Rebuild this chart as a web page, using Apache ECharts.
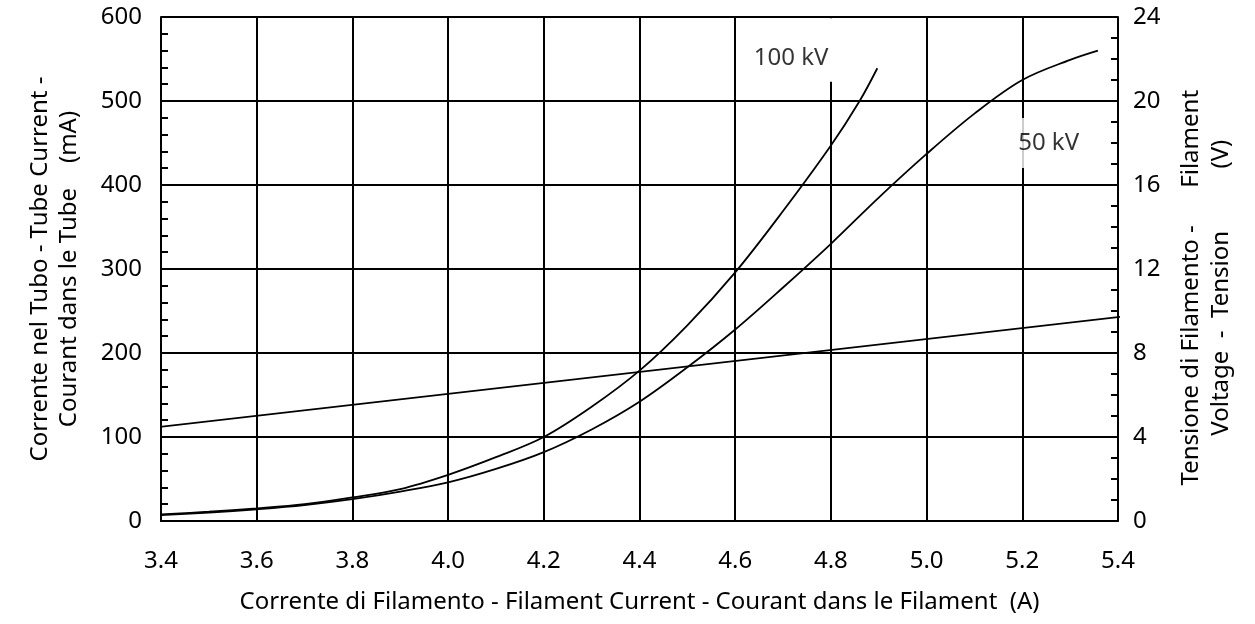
<!DOCTYPE html>
<html>
<head>
<meta charset="utf-8">
<script src="https://cdn.jsdelivr.net/npm/echarts@6/dist/echarts.min.js"></script>
<style>
  html, body { margin: 0; padding: 0; background: #fff; }
  #chart { width: 1255px; height: 624px; }
</style>
</head>
<body>
<div id="chart"></div>
<script>
// filament current (A) -> tube current (mA)
const current100kV = [3.4, 3.5, 3.6, 3.7, 3.8, 3.9, 4.0, 4.1, 4.2, 4.3, 4.4, 4.5, 4.6, 4.7, 4.8, 4.86, 4.897]
const tube100kV = [8, 11, 15, 20, 28, 38, 55, 76, 100, 136, 179, 233, 296, 369, 447, 500, 539]

const current50kV = [3.4, 3.5, 3.6, 3.7, 3.8, 3.9, 4.0, 4.1, 4.2, 4.3, 4.4, 4.5, 4.6, 4.7, 4.8, 4.9, 5.0, 5.1, 5.2, 5.3, 5.358]
const tube50kV = [7, 10, 14, 19, 26, 35, 46, 62, 82, 109, 142, 183, 228, 278, 330, 385, 437, 485, 525, 549, 560]

// filament voltage (V), straight line
const currentVolt = [3.34, 5.42]
const filamentVolt = [4.33, 9.76]

// curve labels [x, mA, text]
const curveLabels = [
  [4.717, 551, '100 kV'],
  [5.255, 450, '50 kV']
]

const FONT = 'Noto Sans'
const FS = 24

const pairs = (xs, ys) => xs.map((x, i) => [x, ys[i]])

const chart = echarts.init(document.getElementById('chart'))

const option = {
  animation: false,
  backgroundColor: '#fff',
  textStyle: { fontFamily: FONT, color: '#000' },
  grid: { left: 161, right: 137, top: 17, bottom: 103 },
  xAxis: {
    type: 'value',
    min: 3.4,
    max: 5.4,
    interval: 0.2,
    name: 'Corrente di Filamento - Filament Current - Courant dans le Filament  (A)',
    nameLocation: 'middle',
    nameGap: 69,
    nameTextStyle: { fontSize: FS, color: '#000', fontFamily: FONT },
    axisLine: { lineStyle: { color: '#000', width: 2 } },
    axisTick: { show: false },
    axisLabel: {
      fontSize: FS, color: '#000', margin: 28, fontFamily: FONT,
      formatter: v => v.toFixed(1)
    },
    splitLine: { show: true, lineStyle: { color: '#000', width: 2 } }
  },
  yAxis: [
    {
      type: 'value',
      position: 'left',
      min: 0,
      max: 600,
      interval: 100,
      name: 'Corrente nel Tubo - Tube Current -\nCourant dans le Tube    (mA)',
      nameLocation: 'middle',
      nameRotate: 90,
      nameGap: 77,
      nameTextStyle: { fontSize: FS, color: '#000', lineHeight: 29, fontFamily: FONT },
      axisLine: { show: true, lineStyle: { color: '#000', width: 2 } },
      axisTick: { show: true, inside: true, length: 7, lineStyle: { color: '#000', width: 2 } },
      minorTick: { show: true, splitNumber: 5, length: 7, lineStyle: { color: '#000', width: 2 } },
      axisLabel: { fontSize: FS, color: '#000', margin: 19, fontFamily: FONT },
      splitLine: { show: true, lineStyle: { color: '#000', width: 2 } }
    },
    {
      type: 'value',
      position: 'right',
      min: 0,
      max: 24,
      interval: 4,
      name: 'Tensione di Filamento -      Filament      \nVoltage  -  Tension          (V)      ',
      nameLocation: 'middle',
      nameRotate: 90,
      nameGap: 58,
      nameTextStyle: { fontSize: FS, color: '#000', lineHeight: 30, fontFamily: FONT },
      axisLine: { show: true, lineStyle: { color: '#000', width: 2 } },
      axisTick: { show: true, inside: true, length: 7, lineStyle: { color: '#000', width: 2 } },
      minorTick: { show: true, splitNumber: 4, length: 7, lineStyle: { color: '#000', width: 2 } },
      axisLabel: { fontSize: FS, color: '#000', margin: 15, fontFamily: FONT },
      splitLine: { show: false }
    }
  ],
  series: [
    {
      name: '100 kV',
      type: 'line',
      data: pairs(current100kV, tube100kV),
      showSymbol: false,
      smooth: 0.35,
      lineStyle: { color: '#000', width: 1.8 },
      // white patch behind the "100 kV" label, breaking the 4.8 grid line
      markArea: {
        silent: true,
        itemStyle: { color: '#fff' },
        data: [[{ xAxis: 4.683, yAxis: 523 }, { xAxis: 4.866, yAxis: 598.6 }]]
      }
    },
    {
      name: '50 kV',
      type: 'line',
      data: pairs(current50kV, tube50kV),
      showSymbol: false,
      smooth: 0.35,
      lineStyle: { color: '#000', width: 1.8 }
    },
    {
      name: 'Tensione',
      type: 'line',
      yAxisIndex: 1,
      clip: false,
      data: pairs(currentVolt, filamentVolt),
      showSymbol: false,
      lineStyle: { color: '#000', width: 1.8 }
    },
    {
      name: 'labels',
      type: 'scatter',
      symbolSize: 1,
      itemStyle: { color: 'rgba(0,0,0,0)' },
      z: 5,
      data: curveLabels.map(l => ({ value: [l[0], l[1]], text: l[2] })),
      label: {
        show: true,
        position: 'inside',
        fontSize: FS,
        fontFamily: FONT,
        color: '#000',
        backgroundColor: '#fff',
        formatter: p => p.data.text
      }
    }
  ]
}

option.series[3].data[0].label = { padding: [4, 8] }
option.series[3].data[1].label = { padding: [13, 7, 13, 7] }

chart.setOption(option)
</script>
</body>
</html>
